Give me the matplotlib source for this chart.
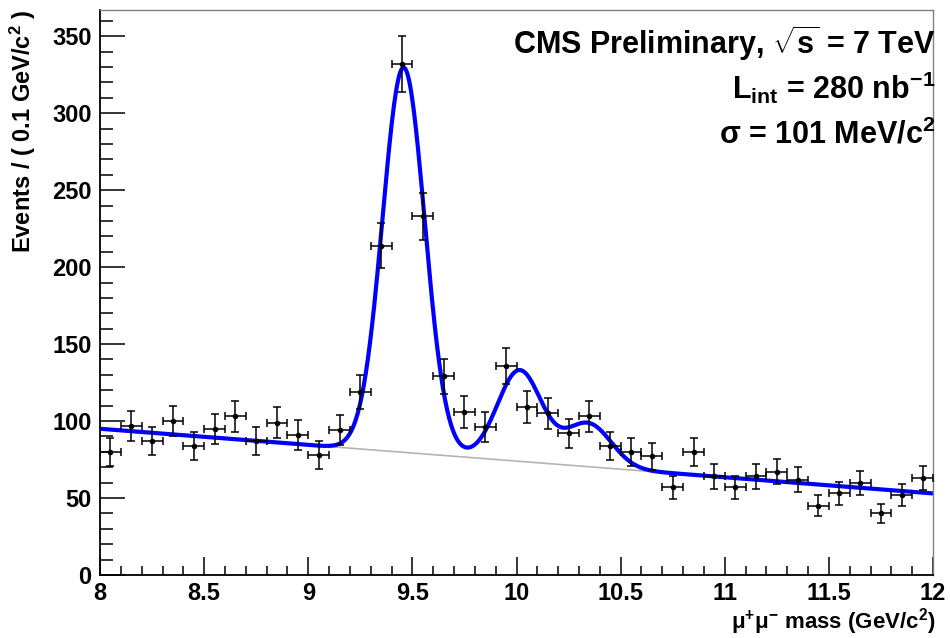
import numpy as np
import matplotlib
matplotlib.use("Agg")
import matplotlib.pyplot as plt
from matplotlib.ticker import MultipleLocator

plt.rcParams['font.family'] = ['Liberation Sans', 'DejaVu Sans']
plt.rcParams['mathtext.fontset'] = 'custom'
plt.rcParams['mathtext.rm'] = 'Liberation Sans:bold'
plt.rcParams['mathtext.it'] = 'Liberation Sans:bold'
plt.rcParams['mathtext.bf'] = 'Liberation Sans:bold'

# dimuon invariant mass histogram, 0.1 GeV bins
bin_centers = [8.05, 8.15, 8.25, 8.35, 8.45, 8.55, 8.65, 8.75, 8.85, 8.95,
               9.05, 9.15, 9.25, 9.35, 9.45, 9.55, 9.65, 9.75, 9.85, 9.95,
               10.05, 10.15, 10.25, 10.35, 10.45, 10.55, 10.65, 10.75, 10.85, 10.95,
               11.05, 11.15, 11.25, 11.35, 11.45, 11.55, 11.65, 11.75, 11.85, 11.95]
counts = [80, 97, 87, 100, 84, 95, 103, 87, 99, 91,
          78, 94, 119, 214, 332, 233, 129, 106, 96, 136,
          109, 105, 92, 103, 84, 80, 77, 57, 80, 64,
          57, 64, 67, 62, 45, 53, 60, 40, 52, 63]

# fit: linear background + three Upsilon gaussians
bg_coef = [95.0, -10.5]            # value at 8 GeV, slope per GeV
peak_mass = [9.458, 10.015, 10.345]
peak_amp = [250.0, 59.0, 28.0]
peak_sigma = [0.101, 0.107, 0.110]

bin_centers = np.array(bin_centers)
counts = np.array(counts, dtype=float)
errors = np.sqrt(counts)


def background(m):
    return bg_coef[0] + bg_coef[1] * (m - 8.0)


def model(m):
    y = background(m)
    for mu, a, s in zip(peak_mass, peak_amp, peak_sigma):
        y = y + a * np.exp(-0.5 * ((m - mu) / s) ** 2)
    return y


fig = plt.figure(figsize=(9.5, 6.38), dpi=100)
ax = fig.add_axes([0.1053, 0.0987, 0.8768, 0.8856])

m = np.linspace(8, 12, 800)
ax.plot(m, background(m), color='#b4b4b4', lw=1.2, zorder=1)
ax.plot(m, model(m), color='#0000ff', lw=3.0, zorder=2)

ax.errorbar(bin_centers, counts, xerr=0.05, yerr=errors, fmt='o', ms=3,
            color='black', ecolor='black', elinewidth=1.1, capsize=3,
            capthick=1.1, zorder=3)

ax.set_xlim(8, 12)
ax.set_ylim(0, 367)
ax.xaxis.set_major_locator(MultipleLocator(0.5))
ax.xaxis.set_minor_locator(MultipleLocator(0.1))
ax.yaxis.set_major_locator(MultipleLocator(50))
ax.yaxis.set_minor_locator(MultipleLocator(10))
ax.set_xticks([8, 8.5, 9, 9.5, 10, 10.5, 11, 11.5, 12])
ax.set_xticklabels(['8', '8.5', '9', '9.5', '10', '10.5', '11', '11.5', '12'])

ax.tick_params(axis='both', which='both', direction='in', top=False, right=False,
               labelsize=17, width=1.1)
ax.tick_params(axis='y', which='major', length=18, pad=6)
ax.tick_params(axis='y', which='minor', length=9.5)
ax.tick_params(axis='x', which='major', length=13, pad=5)
ax.tick_params(axis='x', which='minor', length=6.5)
for lab in ax.get_xticklabels() + ax.get_yticklabels():
    lab.set_fontweight('bold')

ax.spines['left'].set_linewidth(1.3)
ax.spines['bottom'].set_linewidth(1.3)
for side in ('top', 'right'):
    ax.spines[side].set_color('#808080')
    ax.spines[side].set_linewidth(1.0)

ax.set_ylabel(r'Events / ( 0.1 GeV/c$^{2}$ )', fontsize=17, fontweight='bold')
ax.yaxis.set_label_coords(-0.075, 1.0)
ax.yaxis.label.set_horizontalalignment('right')

# x axis title sits right-aligned under the tick labels
fig.text(0.985, 0.002, r'μ$^{+}$μ$^{\mathrm{-}}$ mass (GeV/c$^{2}$)', ha='right',
         va='bottom', fontsize=16, fontweight='bold')

txt = dict(transform=ax.transAxes, ha='right', va='baseline', fontsize=22,
           fontweight='bold')
ax.text(1.003, 0.922, r'CMS Preliminary, $\sqrt{s}$ = 7 TeV', **txt)
ax.text(1.003, 0.843, r'L$_{\rm int}$ = 280 nb$^{-1}$', **txt)
ax.text(1.003, 0.763, r'σ = 101 MeV/c$^{2}$', **txt)

fig.savefig('out.png', dpi=100)
